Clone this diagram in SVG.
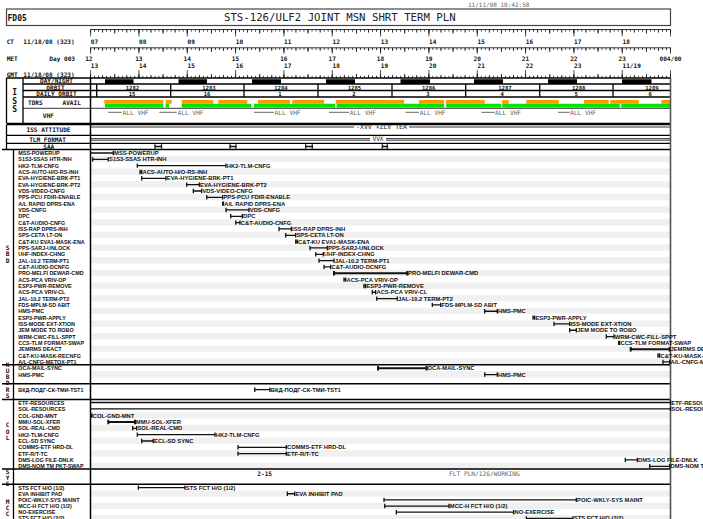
<svg xmlns="http://www.w3.org/2000/svg" width="703" height="519" viewBox="0 0 703 519">
<defs>
<style>
.h{font-family:"DejaVu Sans Mono","Liberation Mono",monospace;font-weight:bold;font-size:6.1px;fill:#111}
.hc{font-family:"DejaVu Sans Mono","Liberation Mono",monospace;font-weight:bold;font-size:6.1px;fill:#111;text-anchor:middle}
.g{font-family:"DejaVu Sans Mono","Liberation Mono",monospace;font-size:6.2px;fill:#666}
.gl{font-family:"DejaVu Sans Mono","Liberation Mono",monospace;font-weight:bold;font-size:6.2px;fill:#111;text-anchor:middle}
.l{font-family:"Liberation Sans",Arial,sans-serif;font-weight:bold;font-size:5.4px;fill:#111}
.b{font-family:"Liberation Sans",Arial,sans-serif;font-weight:bold;font-size:5.8px;fill:#111}
.bar{stroke:#111;stroke-width:1.3;fill:none}
.tk{stroke:#111;stroke-width:2;fill:none}
.ln{stroke:#000;stroke-width:1.3;fill:none}
.tn{stroke:#000;stroke-width:0.8;fill:none}
</style>
<pattern id="p5" x="90.1" y="0" width="4.027778" height="20" patternUnits="userSpaceOnUse"><rect width="0.8" height="20" fill="#222"/></pattern>
<pattern id="p15" x="90.1" y="0" width="12.083333" height="20" patternUnits="userSpaceOnUse"><rect width="0.8" height="20" fill="#222"/></pattern>
<pattern id="p30" x="90.1" y="0" width="24.166667" height="20" patternUnits="userSpaceOnUse"><rect width="0.8" height="20" fill="#222"/></pattern>
<pattern id="p60" x="90.1" y="0" width="48.333333" height="20" patternUnits="userSpaceOnUse"><rect width="0.8" height="20" fill="#222"/></pattern>
</defs>
<rect width="703" height="519" fill="#fff"/>

<g id="header">
<rect x="6.5" y="9" width="664" height="16.5" fill="none" stroke="#444" stroke-width="1.2"/>
<text x="7.5" y="20.7" style="font-family:'DejaVu Sans Mono',monospace;font-weight:bold;font-size:8px;fill:#111">FD05</text>
<text x="224" y="20.8" style="font-family:'DejaVu Sans Mono',monospace;font-size:10.7px;fill:#222">STS-126/ULF2 JOINT MSN SHRT TERM PLN</text>
<text x="468" y="7.3" class="g" style="font-size:6px">11/11/08  10:42:58</text>
</g>

<g id="time-rulers">
<path class="tn" d="M90.5 29.5H670.5M90.5 47.8H670.5"/>
<rect x="90.1" y="29.5" width="581" height="2.2" fill="url(#p5)"/>
<rect x="90.1" y="29.5" width="581" height="3.2" fill="url(#p15)"/>
<rect x="90.1" y="29.5" width="581" height="4.2" fill="url(#p30)"/>
<rect x="90.1" y="29.5" width="581" height="7" fill="url(#p60)"/>
<rect x="90.1" y="47.8" width="581" height="2.2" fill="url(#p5)"/>
<rect x="90.1" y="47.8" width="581" height="3.2" fill="url(#p15)"/>
<rect x="90.1" y="47.8" width="581" height="4.2" fill="url(#p30)"/>
<rect x="90.1" y="47.8" width="581" height="6" fill="url(#p60)"/>
<rect x="90.1" y="75.8" width="581" height="2.2" fill="url(#p5)"/>
<rect x="90.1" y="74.8" width="581" height="3.2" fill="url(#p15)"/>
<rect x="90.1" y="73.8" width="581" height="4.2" fill="url(#p30)"/>
<rect x="90.1" y="70" width="581" height="8" fill="url(#p60)"/>
<text class="h" x="6.7" y="44">CT</text><text class="h" x="23.3" y="44">11/18/08 (323)</text>
<text class="h" x="6.7" y="60.5">MET</text><text class="h" x="49.3" y="60.5">Day 003</text>
<text class="h" x="6.7" y="76.7">GMT</text><text class="h" x="23.3" y="76.7">11/18/08 (323)</text>
<g class="h">
<text x="90.8" y="44">07</text><text x="139.1" y="44">08</text><text x="187.5" y="44">09</text><text x="235.8" y="44">10</text><text x="284.1" y="44">11</text><text x="332.5" y="44">12</text><text x="380.8" y="44">13</text><text x="429.1" y="44">14</text><text x="477.5" y="44">15</text><text x="525.8" y="44">16</text><text x="574.1" y="44">17</text><text x="622.5" y="44">18</text>
<text x="90.8" y="68.3">13</text><text x="139.1" y="68.3">14</text><text x="187.5" y="68.3">15</text><text x="235.8" y="68.3">16</text><text x="284.1" y="68.3">17</text><text x="332.5" y="68.3">18</text><text x="380.8" y="68.3">19</text><text x="429.1" y="68.3">20</text><text x="477.5" y="68.3">21</text><text x="525.8" y="68.3">22</text><text x="574.1" y="68.3">23</text><text x="622.5" y="68.3">11/19</text>
</g>
<g class="hc">
<text x="88.8" y="60.5">12</text><text x="138.8" y="60.5">13</text><text x="187.2" y="60.5">14</text><text x="235.5" y="60.5">15</text><text x="283.8" y="60.5">16</text><text x="332.2" y="60.5">17</text><text x="380.5" y="60.5">18</text><text x="428.8" y="60.5">19</text><text x="477.2" y="60.5">20</text><text x="525.5" y="60.5">21</text><text x="573.8" y="60.5">22</text><text x="622.2" y="60.5">23</text><text x="670.5" y="60.5">004/00</text>
</g>
</g>

<g id="stripes" fill="#f0f0f0">
<path d="M90.5 155.83h580v6.33h-580zM90.5 168.49h580v6.33h-580zM90.5 181.15h580v6.33h-580zM90.5 193.81h580v6.33h-580zM90.5 206.47h580v6.33h-580zM90.5 219.13h580v6.33h-580zM90.5 231.79h580v6.33h-580zM90.5 244.45h580v6.33h-580zM90.5 257.11h580v6.33h-580zM90.5 269.77h580v6.33h-580zM90.5 282.43h580v6.33h-580zM90.5 295.09h580v6.33h-580zM90.5 307.75h580v6.33h-580zM90.5 320.41h580v6.33h-580zM90.5 333.07h580v6.33h-580zM90.5 345.73h580v6.33h-580zM90.5 358.39h580v6.33h-580zM90.5 371.05h580v6.33h-580zM90.5 412.16h580v6.33h-580zM90.5 424.82h580v6.33h-580zM90.5 437.48h580v6.33h-580zM90.5 450.14h580v6.33h-580zM90.5 462.8h580v6.33h-580zM90.5 490.45h580v6.15h-580zM90.5 502.75h580v6.15h-580zM90.5 515.05h580v6.15h-580z"/>
</g>

<g id="iss-rows">
<g id="daynight">
<path fill="#000" d="M105 79.3h28.5v4.6h-28.5zM178.5 79.3h28.5v4.6h-28.5zM252 79.3h29v4.6h-29zM326 79.3h29v4.6h-29zM400.5 79.3h29.5v4.6h-29.5zM474 79.3h29v4.6h-29zM548 79.3h29v4.6h-29zM622 79.3h29.5v4.6h-29.5z"/>
</g>
<g id="orbits">
<path class="ln" d="M96.7 84V97M170.7 84V97M244 84V97M318 84V97M392 84V97M465.7 84V97M539.7 84V97M613 84V97"/>
<g class="hc" style="font-size:5.6px">
<text x="132.5" y="89.7">1282</text><text x="209" y="89.7">1283</text><text x="281" y="89.7">1284</text><text x="354.5" y="89.7">1285</text><text x="428.7" y="89.7">1286</text><text x="505" y="89.7">1287</text><text x="578.7" y="89.7">1288</text><text x="652" y="89.7">1289</text>
<text x="132" y="96.3">15</text><text x="207" y="96.3">16</text><text x="280" y="96.3">1</text><text x="354" y="96.3">2</text><text x="428" y="96.3">3</text><text x="502.3" y="96.3">4</text><text x="576.3" y="96.3">5</text><text x="650.3" y="96.3">6</text>
</g>
</g>
<g id="tdrs">
<path fill="#ff9900" d="M104.3 100h59v3.8h-59zM165.7 100h6v3.8h-6zM181.7 100h31.6v3.8h-31.6zM218.3 100h29v3.8h-29zM258 100h32v3.8h-32zM292.3 100h31.7v3.8h-31.7zM335.7 100h68.3v3.8h-68.3zM419 100h25v3.8h-25zM445.7 100h39v3.8h-39zM502.3 100h6.4v3.8h-6.4zM526.3 100h32.4v3.8h-32.4zM584 100h24.7v3.8h-24.7zM610.3 100h28.4v3.8h-28.4zM661.3 100h9.2v3.8h-9.2z"/>
<path fill="#00e600" d="M105 103.8h58.3v3.6h-58.3zM165.7 103.8h3.3v3.6h-3.3zM181.7 103.8h69.6v3.6h-69.6zM254 103.8h81v3.6h-81zM336.7 103.8h107.3v3.6h-107.3zM446.3 103.8h55v3.6h-55zM502.3 103.8h117.4v3.6h-117.4zM621.3 103.8h49.2v3.6h-49.2z"/>
</g>
<g id="vhf">
<path stroke="#555" stroke-width="0.9" d="M108.3 112.3H121.7M159.3 112.3H176.7M254 112.3H274M329 112.3H349M405.7 112.3H419M481.3 112.3H494.7M558 112.3H569.7"/>
<g class="g">
<text x="122.5" y="114.6">ALL VHF</text><text x="177.5" y="114.6">ALL VHF</text><text x="274.5" y="114.6">ALL VHF</text><text x="349.8" y="114.6">ALL VHF</text><text x="419.5" y="114.6">ALL VHF</text><text x="495" y="114.6">ALL VHF</text><text x="570" y="114.6">ALL VHF</text>
</g>
</g>
<g id="iss-labels">
<text class="gl" style="font-size:8px" x="14.7" y="95">I</text><text class="gl" style="font-size:8px" x="14.7" y="103.6">S</text><text class="gl" style="font-size:8px" x="14.7" y="112.2">S</text>
<text class="hc" x="56.5" y="83.3">DAY/NIGHT</text>
<text class="hc" x="55.5" y="89.7">ORBIT</text>
<text class="hc" x="56.5" y="96.3">DAILY ORBIT</text>
<text class="h" x="28" y="104.7">TDRS</text><text class="h" x="62.5" y="104.7">AVAIL</text>
<text class="hc" x="48.3" y="118">VHF</text>
<text class="hc" x="48.5" y="132.3">ISS ATTITUDE</text>
<text class="hc" x="47.5" y="141.5">TLM FORMAT</text>
<text class="hc" x="48.8" y="148.6">SAA</text>
</g>
<g id="attitude">
<path class="tn" d="M90.5 127H670.5"/>
<rect x="354" y="123.3" width="55" height="6.5" fill="#fff"/>
<text class="g" x="381.5" y="129.2" style="text-anchor:middle;fill:#222;font-size:6.5px">-XVV +ZLV TEA</text>
</g>
<g id="tlm">
<path stroke="#000" stroke-width="0.8" d="M90.5 138.6H670.5M90.5 140.2H670.5"/>
<rect x="370" y="136.5" width="16" height="5.5" fill="#fff"/>
<text class="g" x="378" y="141.4" style="text-anchor:middle;fill:#222">VVX</text>
</g>
<g id="saa">
<path class="bar" d="M155 144.3V148.7M155 146.5H161.5M161.5 144.3V148.7M230 144.3V148.7M230 146.5H236M236 144.3V148.7M305.7 144.3V148.7M305.7 146.5H312.3M312.3 144.3V148.7M382.3 144.3V148.7M382.3 146.5H387.3M387.3 144.3V148.7"/>
</g>
</g>

<g id="frame">
<path class="ln" style="stroke-width:1.5" d="M6.5 78H670.5"/>
<path class="ln" d="M6.5 78V123.3M23 78V123.3M23 84H670.5M23 90.5H670.5M23 97H670.5M6.5 123.3H670.5"/>
<path class="tn" d="M23 108.3H670.5"/>
<path class="ln" d="M6.5 124.7H670.5M6.5 135.3H670.5M6.5 143.3H670.5M6.5 124.7V149.5"/>
<path class="ln" style="stroke-width:1.5" d="M2 149.5H670.5M2 364.7H670.5M2 383.7H670.5M2 399.5H670.5M2 469.1H670.5M2 484.3H670.5"/>
<path class="ln" d="M13.5 149.5V519"/>
<path class="ln" style="stroke-width:1.5" d="M90.5 78V519"/>
<path stroke="#555" stroke-width="1.6" fill="none" d="M670.5 78V519"/>
</g>

<g id="group-letters">
<text class="gl" x="7.7" y="250">S</text><text class="gl" x="7.7" y="256.3">B</text><text class="gl" x="7.7" y="262.6">D</text>
<text class="gl" x="7.7" y="366.5">K</text><text class="gl" x="7.7" y="372.8">U</text><text class="gl" x="7.7" y="379.1">B</text><text class="gl" x="7.7" y="385.4">D</text>
<text class="gl" x="7.7" y="391.8">R</text><text class="gl" x="7.7" y="398.1">S</text>
<text class="gl" x="7.7" y="427.3">C</text><text class="gl" x="7.7" y="433.6">O</text><text class="gl" x="7.7" y="439.9">L</text>
<text class="gl" x="7.7" y="473.6">S</text><text class="gl" x="7.7" y="479.9">Y</text><text class="gl" x="7.7" y="486.2">S</text>
<text class="gl" x="7.7" y="503.5">M</text><text class="gl" x="7.7" y="509.8">C</text><text class="gl" x="7.7" y="516.1">C</text>
</g>

<g id="row-labels" class="l">
<text x="18.3" y="155">MSS-POWERUP</text>
<text x="18.3" y="161.33">S1S3-SSAS HTR-INH</text>
<text x="18.3" y="167.66">HK2-TLM-CNFG</text>
<text x="18.3" y="173.99">ACS-AUTO-H/O-RS-INH</text>
<text x="18.3" y="180.32">EVA-HYGIENE-BRK-PT1</text>
<text x="18.3" y="186.65">EVA-HYGIENE-BRK-PT2</text>
<text x="18.3" y="192.98">VDS-VIDEO-CNFG</text>
<text x="18.3" y="199.31">PPS-PCU FDIR-ENABLE</text>
<text x="18.3" y="205.64">A/L RAPID DPRS-ENA</text>
<text x="18.3" y="211.97">VDS-CNFG</text>
<text x="18.3" y="218.3">DPC</text>
<text x="18.3" y="224.63">C&amp;T-AUDIO-CNFG</text>
<text x="18.3" y="230.96">ISS-RAP DPRS-INH</text>
<text x="18.3" y="237.29">SPS-CETA LT-ON</text>
<text x="18.3" y="243.62">C&amp;T-KU EVA1-MASK-ENA</text>
<text x="18.3" y="249.95">PPS-SARJ-UNLOCK</text>
<text x="18.3" y="256.28">UHF-INDEX-CHNG</text>
<text x="18.3" y="262.61">JAL-10.2 TERM-PT1</text>
<text x="18.3" y="268.94">C&amp;T-AUDIO-DCNFG</text>
<text x="18.3" y="275.27">PRO-MELFI DEWAR-CMD</text>
<text x="18.3" y="281.6">ACS-PCA VRIV-OP</text>
<text x="18.3" y="287.93">ESP3-PWR-REMOVE</text>
<text x="18.3" y="294.26">ACS-PCA VRIV-CL</text>
<text x="18.3" y="300.59">JAL-10.2 TERM-PT2</text>
<text x="18.3" y="306.92">FDS-MPLM-SD ABIT</text>
<text x="18.3" y="313.25">HMS-PMC</text>
<text x="18.3" y="319.58">ESP3-PWR-APPLY</text>
<text x="18.3" y="325.91">ISS-MODE EXT-XTION</text>
<text x="18.3" y="332.24">JEM MODE TO ROBO</text>
<text x="18.3" y="338.57">WRM-CWC-FILL-SPPT</text>
<text x="18.3" y="344.9">CCS-TLM FORMAT-SWAP</text>
<text x="18.3" y="351.23">JEMRMS DEACT</text>
<text x="18.3" y="357.56">C&amp;T-KU-MASK-RECNFG</text>
<text x="18.3" y="363.89">A/L-CNFG-METOX-PT1</text>
<text x="18.3" y="370.22">OCA-MAIL-SYNC</text>
<text x="18.3" y="376.55">HMS-PMC</text>
<text x="18.3" y="391.7">ВКД-ПОДГ-СК-ТМИ-TST1</text>
<text x="18.3" y="405">ETF-RESOURCES</text>
<text x="18.3" y="411.33">SOL-RESOURCES</text>
<text x="18.3" y="417.66">COL-GND-MNT</text>
<text x="18.3" y="423.99">MMU-SOL-XFER</text>
<text x="18.3" y="430.32">SOL-REAL-CMD</text>
<text x="18.3" y="436.65">HK2-TLM-CNFG</text>
<text x="18.3" y="442.98">ECL-SD SYNC</text>
<text x="18.3" y="449.31">COMMS-ETF HRD-DL</text>
<text x="18.3" y="455.64">ETF-R/T-TC</text>
<text x="18.3" y="461.97">DMS-LOG FILE-DNLK</text>
<text x="18.3" y="468.3">DMS-NOM TM PKT-SWAP</text>
<text x="18.3" y="489.7">STS FCT H/O (1/2)</text>
<text x="18.3" y="495.85">EVA INHIBIT PAD</text>
<text x="18.3" y="502">POIC-WKLY-SYS MAINT</text>
<text x="18.3" y="508.15">MCC-H FCT H/O (1/2)</text>
<text x="18.3" y="514.3">NO-EXERCISE</text>
<text x="18.3" y="520.45">STS FCT H/O (2/2)</text>
</g>

<g id="connectors">
<path class="bar" d="M90.5 153H113.3M113.3 150.8v4.4
M92.7 157.13v4.4M92.7 159.33H108.3M108.3 157.13v4.4
M137.3 163.46v4.4M137.3 165.66H226M226 163.46v4.4
M140 169.79v4.4M140 171.99H141.7M141.7 169.79v4.4
M141.7 176.12v4.4M141.7 178.32H166M166 176.12v4.4
M186.7 182.45v4.4M186.7 184.65H199.3M199.3 182.45v4.4
M193.3 188.78v4.4M193.3 190.98H201.7M201.7 188.78v4.4
M206.7 195.11v4.4M206.7 197.31H222.7M222.7 195.11v4.4
M222.7 201.44v4.4M222.7 203.64H223.5M223.5 201.44v4.4
M226 207.77v4.4M226 209.97H249M249 207.77v4.4
M230.7 214.1v4.4M230.7 216.3H242.3M242.3 214.1v4.4
M235.7 220.43v4.4M235.7 222.63H240M240 220.43v4.4
M279 226.76v4.4M279 228.96H291.3M291.3 226.76v4.4
M285.7 233.09v4.4M285.7 235.29H295.7M295.7 233.09v4.4
M295.7 239.42v4.4M295.7 241.62H297.3M297.3 239.42v4.4
M310 245.75v4.4M310 247.95H327.3M327.3 245.75v4.4
M315.7 252.08v4.4M315.7 254.28H323.3M323.3 252.08v4.4
M319 258.41v4.4M319 260.61H334M334 258.41v4.4
M324 264.74v4.4M324 266.94H330.7M330.7 264.74v4.4
M344 277.4v4.4M344 279.6H345.7M345.7 277.4v4.4
M364 283.73v4.4M364 285.93H365.7M365.7 283.73v4.4
M372.3 290.06v4.4M372.3 292.26H375.7M375.7 290.06v4.4
M376.7 296.39v4.4M376.7 298.59H397.3M397.3 296.39v4.4
M432.3 302.72v4.4M432.3 304.92H440.7M440.7 302.72v4.4
M484.7 309.05v4.4M484.7 311.25H497.3M497.3 309.05v4.4
M533 315.38v4.4M533 317.58H534.7M534.7 315.38v4.4
M554 321.71v4.4M554 323.91H569.7M569.7 321.71v4.4
M569.7 328.04v4.4M569.7 330.24H576.3M576.3 328.04v4.4
M606.3 334.37v4.4M606.3 336.57H614M614 334.37v4.4
M618.7 340.7v4.4M618.7 342.9H619.7M619.7 340.7v4.4
M658 353.36v4.4M658 355.56H659.7M659.7 353.36v4.4
M663 359.69v4.4M663 361.89H669.7M669.7 359.69v4.4
M484.7 372.35v4.4M484.7 374.55H497.3M497.3 372.35v4.4
M254.7 387.5v4.4M254.7 389.7H270M270 387.5v4.4
M90.5 402.5H670.5M670.5 400.3v4.4
M90.5 408.8H670.5M670.5 406.6v4.4
M90.7 413.46v4.4M90.7 415.66H92M92 413.46v4.4
M132.7 426.12v4.4M132.7 428.32H136.7M136.7 426.12v4.4
M137.3 432.45v4.4M137.3 434.65H215M215 432.45v4.4
M141.7 438.78v4.4M141.7 440.98H153.3M153.3 438.78v4.4
M238 445.11v4.4M238 447.31H286.3M286.3 445.11v4.4
M238 451.44v4.4M238 453.64H286.3M286.3 451.44v4.4
M625.3 457.77v4.4M625.3 459.97H637.3M637.3 457.77v4.4
M649.7 464.1v4.4M649.7 466.3H669.7M669.7 464.1v4.4
M138.3 485.4v4.4M138.3 487.6H185M185 485.4v4.4
M287.3 491.55v4.4M287.3 493.75H294.7M294.7 491.55v4.4
M384 497.7v4.4M384 499.9H576.3M576.3 497.7v4.4
M384.7 503.85v4.4M384.7 506.05H449M449 503.85v4.4
M396.3 510v4.4M396.3 512.2H513.7M513.7 510v4.4
M526.3 516.15v4.4M526.3 518.35H573M573 516.15v4.4"/>
<path class="tk" d="M334 271.07v4.4M334 273.27H407.3M407.3 271.07v4.4
M630.7 347.03v4.4M630.7 349.23H669.7M669.7 347.03v4.4
M378 366.02v4.4M378 368.22H426.7M426.7 366.02v4.4
M108.3 419.79v4.4M108.3 421.99H135M135 419.79v4.4"/>
</g>

<g id="bar-labels" class="b">
<text x="114.1" y="155">MSS-POWERUP</text>
<text x="109.1" y="161.33">S1S3-SSAS HTR-INH</text>
<text x="226.8" y="167.66">HK2-TLM-CNFG</text>
<text x="142.5" y="173.99">ACS-AUTO-H/O-RS-INH</text>
<text x="166.8" y="180.32">EVA-HYGIENE-BRK-PT1</text>
<text x="200.1" y="186.65">EVA-HYGIENE-BRK-PT2</text>
<text x="202.5" y="192.98">VDS-VIDEO-CNFG</text>
<text x="223.5" y="199.31">PPS-PCU FDIR-ENABLE</text>
<text x="224.3" y="205.64">A/L RAPID DPRS-ENA</text>
<text x="249.8" y="211.97">VDS-CNFG</text>
<text x="243.1" y="218.3">DPC</text>
<text x="240.8" y="224.63">C&amp;T-AUDIO-CNFG</text>
<text x="292.1" y="230.96">ISS-RAP DPRS-INH</text>
<text x="296.5" y="237.29">SPS-CETA LT-ON</text>
<text x="298.1" y="243.62">C&amp;T-KU EVA1-MASK-ENA</text>
<text x="328.1" y="249.95">PPS-SARJ-UNLOCK</text>
<text x="324.1" y="256.28">UHF-INDEX-CHNG</text>
<text x="334.8" y="262.61">JAL-10.2 TERM-PT1</text>
<text x="331.5" y="268.94">C&amp;T-AUDIO-DCNFG</text>
<text x="408.1" y="275.27">PRO-MELFI DEWAR-CMD</text>
<text x="346.5" y="281.6">ACS-PCA VRIV-OP</text>
<text x="366.5" y="287.93">ESP3-PWR-REMOVE</text>
<text x="376.5" y="294.26">ACS-PCA VRIV-CL</text>
<text x="398.1" y="300.59">JAL-10.2 TERM-PT2</text>
<text x="441.5" y="306.92">FDS-MPLM-SD ABIT</text>
<text x="498.1" y="313.25">HMS-PMC</text>
<text x="535.5" y="319.58">ESP3-PWR-APPLY</text>
<text x="570.5" y="325.91">ISS-MODE EXT-XTION</text>
<text x="577.1" y="332.24">JEM MODE TO ROBO</text>
<text x="614.8" y="338.57">WRM-CWC-FILL-SPPT</text>
<text x="620.5" y="344.9">CCS-TLM FORMAT-SWAP</text>
<text x="670.5" y="351.23">JEMRMS DEACT</text>
<text x="660.5" y="357.56">C&amp;T-KU-MASK-RECNFG</text>
<text x="670.5" y="363.89">A/L-CNFG-METOX-PT1</text>
<text x="427.5" y="370.22">OCA-MAIL-SYNC</text>
<text x="498.1" y="376.55">HMS-PMC</text>
<text x="270.8" y="391.7">ВКД-ПОДГ-СК-ТМИ-TST1</text>
<text x="671.3" y="404.5">ETF-RESOURCES</text>
<text x="671.3" y="410.8">SOL-RESOURCES</text>
<text x="92.8" y="417.66">COL-GND-MNT</text>
<text x="135.8" y="423.99">MMU-SOL-XFER</text>
<text x="137.5" y="430.32">SOL-REAL-CMD</text>
<text x="215.8" y="436.65">HK2-TLM-CNFG</text>
<text x="154.1" y="442.98">ECL-SD SYNC</text>
<text x="287.1" y="449.31">COMMS-ETF HRD-DL</text>
<text x="287.1" y="455.64">ETF-R/T-TC</text>
<text x="638.1" y="461.97">DMS-LOG FILE-DNLK</text>
<text x="670.5" y="468.3">DMS-NOM TM PKT-SWAP</text>
<text x="185.8" y="489.6">STS FCT H/O (1/2)</text>
<text x="295.5" y="495.75">EVA INHIBIT PAD</text>
<text x="577.1" y="501.9">POIC-WKLY-SYS MAINT</text>
<text x="449.8" y="508.05">MCC-H FCT H/O (1/2)</text>
<text x="514.5" y="514.2">NO-EXERCISE</text>
<text x="573.8" y="520.35">STS FCT H/O (2/2)</text>
</g>

<g id="sys-row">
<text class="h" x="257.3" y="475.7">2-15</text>
<text class="g" x="449" y="475.7">FLT PLN/126/WORKING</text>
</g>
</svg>
